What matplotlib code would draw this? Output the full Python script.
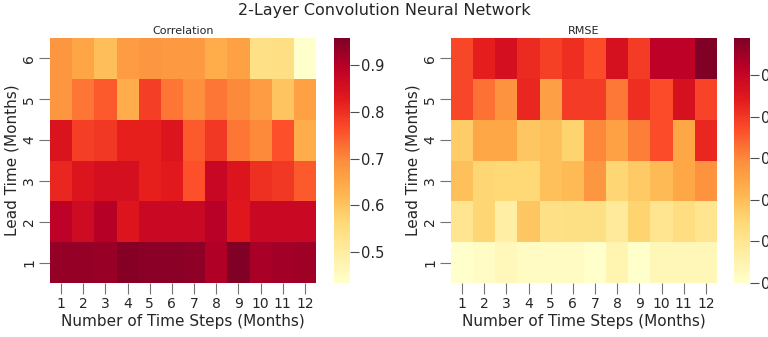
import numpy as np
import pandas as pd
import matplotlib
matplotlib.use('Agg')
import matplotlib.pyplot as plt
import seaborn as sns

sns.set_style('ticks')
plt.rcParams['font.family'] = ['DejaVu Sans']

steps = list(range(1, 13))
leads = [6, 5, 4, 3, 2, 1]

# correlation per lead time (rows: lead 6 down to lead 1)
corr_6 = [0.680, 0.655, 0.610, 0.670, 0.680, 0.675, 0.675, 0.640, 0.660, 0.540, 0.545, 0.434]
corr_5 = [0.680, 0.720, 0.750, 0.640, 0.780, 0.720, 0.690, 0.720, 0.700, 0.670, 0.600, 0.660]
corr_4 = [0.843, 0.780, 0.790, 0.820, 0.820, 0.840, 0.750, 0.790, 0.720, 0.700, 0.760, 0.640]
corr_3 = [0.810, 0.840, 0.855, 0.855, 0.820, 0.830, 0.760, 0.875, 0.840, 0.800, 0.790, 0.750]
corr_2 = [0.890, 0.865, 0.900, 0.840, 0.870, 0.870, 0.870, 0.895, 0.835, 0.870, 0.870, 0.870]
corr_1 = [0.935, 0.935, 0.930, 0.950, 0.945, 0.945, 0.940, 0.905, 0.958, 0.915, 0.920, 0.925]

# RMSE per lead time
rmse_6 = [0.678, 0.737, 0.772, 0.719, 0.689, 0.713, 0.672, 0.766, 0.695, 0.813, 0.813, 0.890]
rmse_5 = [0.678, 0.625, 0.583, 0.725, 0.560, 0.695, 0.695, 0.619, 0.713, 0.672, 0.766, 0.684]
rmse_4 = [0.471, 0.542, 0.542, 0.483, 0.495, 0.459, 0.601, 0.554, 0.613, 0.672, 0.542, 0.725]
rmse_3 = [0.495, 0.453, 0.448, 0.448, 0.495, 0.507, 0.577, 0.453, 0.477, 0.507, 0.542, 0.583]
rmse_2 = [0.406, 0.453, 0.371, 0.483, 0.418, 0.424, 0.424, 0.383, 0.459, 0.406, 0.430, 0.406]
rmse_1 = [0.300, 0.312, 0.330, 0.318, 0.318, 0.318, 0.300, 0.347, 0.300, 0.335, 0.335, 0.335]

corr = pd.DataFrame([corr_6, corr_5, corr_4, corr_3, corr_2, corr_1], index=leads, columns=steps)
rmse = pd.DataFrame([rmse_6, rmse_5, rmse_4, rmse_3, rmse_2, rmse_1], index=leads, columns=steps)

fig = plt.figure(figsize=(7.68, 3.37), dpi=100)
ax1  = fig.add_axes([0.0651, 0.1602, 0.3464, 0.727])
cax1 = fig.add_axes([0.4349, 0.1602, 0.0208, 0.727])
ax2  = fig.add_axes([0.5872, 0.1602, 0.3464, 0.727])
cax2 = fig.add_axes([0.9557, 0.1602, 0.0208, 0.727])

for ax, cax, df, name in [(ax1, cax1, corr, 'Correlation'), (ax2, cax2, rmse, 'RMSE')]:
    sns.heatmap(df, ax=ax, cbar_ax=cax, cmap='YlOrRd')
    ax.set_title(name, fontsize=8, pad=3)
    ax.set_xlabel('Number of Time Steps (Months)', fontsize=11, labelpad=2)
    ax.set_ylabel('Lead Time (Months)', fontsize=11, labelpad=2)
    ax.tick_params(axis='both', labelsize=10, length=8, color='0.45', width=0.8, pad=2)
    ax.set_yticklabels(ax.get_yticklabels(), rotation=90, va='center')
    ax.set_xticklabels(ax.get_xticklabels(), rotation=0)
    cax.tick_params(labelsize=10.5, length=6.5, color='0.3', width=0.8, pad=1.5)

fig.suptitle('2-Layer Convolution Neural Network', fontsize=11.5, y=0.99)
fig.savefig('out.png', dpi=100)
